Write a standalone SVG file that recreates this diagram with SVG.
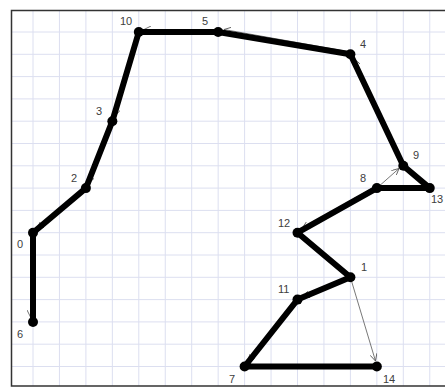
<svg xmlns="http://www.w3.org/2000/svg" width="445" height="387" viewBox="0 0 445 387">
<defs>
<style>
.grid{stroke:#dcdff0;stroke-width:1;fill:none}
.frame{stroke:#333;stroke-width:1.5;fill:none}
.thick{stroke:#000;stroke-width:6;fill:none;stroke-linejoin:round;stroke-linecap:round}
.thin{stroke:#555;stroke-width:0.8;fill:none;marker-end:url(#ah)}
.dot{fill:#000}
.lbl{font-family:"Liberation Sans",Arial,sans-serif;font-size:11px;fill:#404040}
</style>
<marker id="ah" viewBox="0 0 10 10" refX="10" refY="5" markerWidth="7" markerHeight="7" orient="auto" markerUnits="userSpaceOnUse">
<path d="M0,0 L10,5 L0,10" fill="none" stroke="#555" stroke-width="1.2"/>
</marker>
</defs>
<rect width="445" height="387" fill="#fff"/>
<path class="grid" d="M33,11V386M59.45,11V386M85.9,11V386M112.35,11V386M138.8,11V386M165.25,11V386M191.7,11V386M218.15,11V386M244.6,11V386M271.05,11V386M297.5,11V386M323.95,11V386M350.4,11V386M376.85,11V386M403.3,11V386M429.75,11V386
M11,32H445M11,54.3H445M11,76.6H445M11,98.9H445M11,121.2H445M11,143.5H445M11,165.8H445M11,188.1H445M11,210.4H445M11,232.7H445M11,255H445M11,277.3H445M11,299.6H445M11,321.9H445M11,344.2H445M11,366.5H445"/>
<path class="frame" d="M445,10.5H11.5V386H445"/>
<g id="connectors">
<path class="thin" d="M376.85,188.1 L399,168.5"/>
<path class="thin" d="M403.3,165.8 L354,59"/>
<path class="thin" d="M350.4,52 L224,29.5"/>
<path class="thin" d="M218.15,29.5 L144,29.5"/>
<path class="thin" d="M138.8,32 L115,116"/>
<path class="thin" d="M112.35,121.2 L89,183"/>
<path class="thin" d="M85.9,188.1 L37,229"/>
<path class="thin" d="M30.5,232.7 L30.5,317"/>
<path class="thin" d="M376.85,185.5 L302,228.5"/>
<path class="thin" d="M350.4,277.3 L302.5,297"/>
<path class="thin" d="M297.5,299.6 L248,362"/>
<path class="thin" d="M350.4,277.3 L375.5,361"/>
<path class="thick" d="M33,322 L33,232.7 L85.9,188.1 L112.35,121.2 L138.8,32 L218.15,32 L350.4,54.3 L403.3,165.8 L429.75,188.1 L376.85,188.1 L297.5,232.7 L350.4,277.3 L297.5,299.6 L244.6,366.5 L376.85,366.5"/>
</g>
<g id="n0"><circle class="dot" cx="33" cy="232.7" r="5"/><text class="lbl" x="17" y="248">0</text></g>
<g id="n1"><circle class="dot" cx="350.4" cy="277.3" r="5"/><text class="lbl" x="361" y="271">1</text></g>
<g id="n2"><circle class="dot" cx="85.9" cy="188.1" r="5"/><text class="lbl" x="71" y="182">2</text></g>
<g id="n3"><circle class="dot" cx="112.35" cy="121.2" r="5"/><text class="lbl" x="96" y="115">3</text></g>
<g id="n4"><circle class="dot" cx="350.4" cy="54.3" r="5"/><text class="lbl" x="360" y="48">4</text></g>
<g id="n5"><circle class="dot" cx="218.15" cy="32" r="5"/><text class="lbl" x="202" y="25">5</text></g>
<g id="n6"><circle class="dot" cx="33" cy="322" r="5"/><text class="lbl" x="17" y="338">6</text></g>
<g id="n7"><circle class="dot" cx="244.6" cy="366.5" r="5"/><text class="lbl" x="229" y="383">7</text></g>
<g id="n8"><circle class="dot" cx="376.85" cy="188.1" r="5"/><text class="lbl" x="360" y="182">8</text></g>
<g id="n9"><circle class="dot" cx="403.3" cy="165.8" r="5"/><text class="lbl" x="413" y="159">9</text></g>
<g id="n10"><circle class="dot" cx="138.8" cy="32" r="5"/><text class="lbl" x="120" y="25">10</text></g>
<g id="n11"><circle class="dot" cx="297.5" cy="299.6" r="5"/><text class="lbl" x="278" y="293">11</text></g>
<g id="n12"><circle class="dot" cx="297.5" cy="232.7" r="5"/><text class="lbl" x="278" y="227">12</text></g>
<g id="n13"><circle class="dot" cx="429.75" cy="188.1" r="5"/><text class="lbl" x="431" y="203">13</text></g>
<g id="n14"><circle class="dot" cx="376.85" cy="366.5" r="5"/><text class="lbl" x="383" y="383">14</text></g>
</svg>
